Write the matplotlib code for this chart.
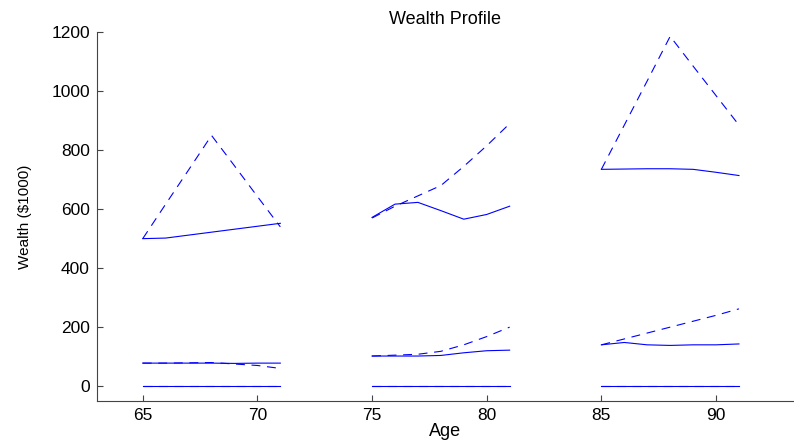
import matplotlib.pyplot as plt

plt.rcParams['font.family'] = ['Liberation Sans', 'DejaVu Sans']

# ages for the three cohorts
age_a = [65, 66, 67, 68, 69, 70, 71]
age_b = [75, 76, 77, 78, 79, 80, 81]
age_c = [85, 86, 87, 88, 89, 90, 91]

# high wealth group (solid = median path, dashed = upper path)
high_a_solid = [500, 502, 512, 522, 532, 542, 552]
high_a_dash = [500, 617, 733, 850, 747, 643, 540]
high_b_solid = [572, 617, 623, 595, 566, 582, 610]
high_b_dash = [570, 610, 645, 680, 745, 815, 890]
high_c_solid = [735, 736, 737, 737, 735, 725, 714]
high_c_dash = [735, 885, 1035, 1186, 1085, 985, 885]

# middle wealth group
mid_a_solid = [78, 78, 78, 78, 77, 78, 78]
mid_a_dash = [78, 78, 79, 80, 75, 70, 60]
mid_b_solid = [102, 102, 102, 104, 113, 120, 122]
mid_b_dash = [102, 105, 108, 118, 140, 168, 200]
mid_c_solid = [140, 148, 140, 138, 140, 140, 143]
mid_c_dash = [140, 160, 180, 200, 220, 240, 262]

# low wealth group
low_solid = [0, 0, 0, 0, 0, 0, 0]
low_dash = [0, 0, 0, 0, 0, 0, 0]

fig = plt.figure(figsize=(7.94, 4.41), dpi=100)
ax = fig.add_axes([0.122, 0.091, 0.878, 0.836])

blue = '#0000ff'
for ages, solid, dash in [
    (age_a, high_a_solid, high_a_dash),
    (age_b, high_b_solid, high_b_dash),
    (age_c, high_c_solid, high_c_dash),
    (age_a, mid_a_solid, mid_a_dash),
    (age_b, mid_b_solid, mid_b_dash),
    (age_c, mid_c_solid, mid_c_dash),
    (age_a, low_solid, low_dash),
    (age_b, low_solid, low_dash),
    (age_c, low_solid, low_dash),
]:
    ax.plot(ages, solid, color=blue, lw=0.8)
    ax.plot(ages, dash, color=blue, lw=0.8, dashes=(8, 6))

ax.set_xlim(63, 93.4)
ax.set_ylim(-50, 1200)
ax.set_xticks([65, 70, 75, 80, 85, 90])
ax.set_yticks([0, 200, 400, 600, 800, 1000, 1200])

for side in ['top', 'right']:
    ax.spines[side].set_visible(False)
for side in ['left', 'bottom']:
    ax.spines[side].set_color('#444444')
    ax.spines[side].set_linewidth(0.8)
ax.tick_params(direction='in', length=4, width=0.8, color='#444444',
               labelsize=12.5, pad=5)

ax.set_title('Wealth Profile', fontsize=13, pad=6)
ax.set_xlabel('Age', fontsize=13, labelpad=0)
ax.set_ylabel('Wealth ($1000)', fontsize=11, labelpad=14)

fig.savefig('out.png', dpi=100)
